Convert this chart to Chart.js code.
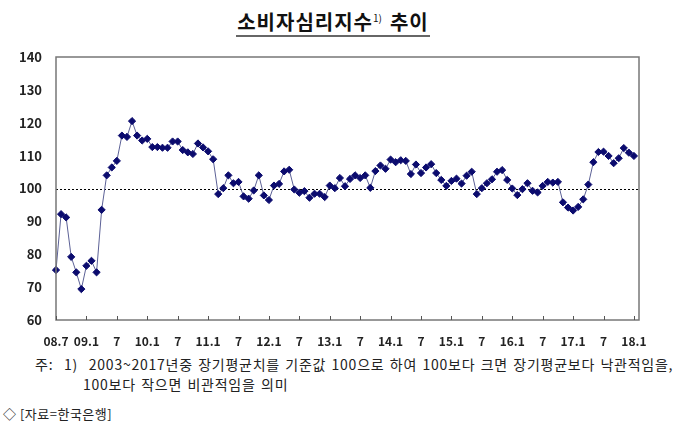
<!DOCTYPE html>
<html>
<head>
<meta charset="utf-8">
<script src="https://cdn.jsdelivr.net/npm/chart.js@4.4.1/dist/chart.umd.min.js"></script>
<style>
body{margin:0;width:680px;height:428px;background:#fff;position:relative;overflow:hidden;font-family:"Noto Sans CJK KR",sans-serif;color:#222}
#title{position:absolute;left:0;width:666px;top:4px;text-align:center;font-size:20px;font-weight:bold;color:#111;letter-spacing:1px}
#title span.t{display:inline-block;border-bottom:2px solid #666;padding:0 1px 0 1px;line-height:27px}
#title sup{font-size:10px;font-weight:normal;vertical-align:8px;margin-right:8px;letter-spacing:0}
#wrap{position:absolute;left:0;top:0;width:680px;height:350px}
.note{position:absolute;font-size:14px;color:#222;white-space:nowrap;line-height:17px;letter-spacing:0.75px;word-spacing:1.5px}
</style>
</head>
<body>
<div id="title"><span class="t">소비자심리지수<sup>1)</sup>추이</span></div>
<div id="wrap"><canvas id="csiChart"></canvas></div>
<div class="note" style="left:35px;top:356px">주:&nbsp; 1)&nbsp; 2003~2017년중 장기평균치를 기준값 100으로 하여 100보다 크면 장기평균보다 낙관적임을,</div>
<div class="note" style="left:83px;top:376px">100보다 작으면 비관적임을 의미</div>
<div class="note" style="left:3px;top:405px;font-size:13px;letter-spacing:0.5px;word-spacing:0">◇ [자료=한국은행]</div>
<script>
	//x축 눈금 라벨 (6개월 간격, 08.7 ~ 18.1)
	var tickLabels = ['08.7','09.1','7','10.1','7','11.1','7','12.1','7','13.1','7','14.1','7','15.1','7','16.1','7','17.1','7','18.1'];
	var yTicks = [60, 70, 80, 90, 100, 110, 120, 130, 140];

	//소비자심리지수 월별 값 (2008.7 ~ 2018.1)
	var csi0811 = [75.2, 92.2, 91.2, 79.2, 74.5, 69.4, 76.5, 78.0, 74.5, 93.5, 104.0, 106.4, 108.4, 116.1, 115.7, 120.5,
		116.1, 114.6, 115.1, 112.6, 112.6, 112.4, 112.4, 114.3, 114.3, 111.7, 111.0, 110.5, 113.7, 112.5, 111.3, 108.9, 98.3];
	var csi1114 = [100.1, 104.0, 101.6, 102.0, 97.6, 96.9, 99.4, 104.0, 97.9, 96.5, 100.9, 101.4, 105.2, 105.7, 99.7, 98.7,
		99.2, 97.2, 98.4, 98.4, 97.4, 100.9, 100.1, 103.2, 100.7, 102.9, 104.0, 103.2, 104.0, 100.2, 105.3, 107.0, 106.0, 108.8, 108.0];
	var csi1418 = [108.6, 108.4, 104.4, 107.3, 104.7, 106.4, 107.4, 104.7, 102.6, 100.8, 102.3, 103.0, 101.5, 103.9, 105.1, 98.3,
		100.1, 101.6, 102.8, 105.1, 105.6, 102.6, 100.0, 98.0, 99.8, 101.6, 99.3, 98.8, 100.8, 102.0, 101.8, 102.0, 95.8, 94.2,
		93.3, 94.4, 96.7, 101.2, 108.0, 111.1, 111.2, 109.9, 107.7, 109.2, 112.3, 110.9, 109.9];
	var baseLine = 100;

	var csi = csi0811.concat(csi1114, csi1418);
	var points = csi.map(function(v, i){ return {x: i, y: v}; });

	var fontFamily = '"Noto Sans CJK KR", "Noto Sans", sans-serif';

	//테두리, 기준선(100), 안쪽 눈금
	var framePlugin = {
		id: 'frame',
		beforeDatasetsDraw: function(chart){
			var a = chart.chartArea, ctx = chart.ctx, ys = chart.scales.y;
			var y100 = Math.round(ys.getPixelForValue(baseLine)) + 0.5;
			ctx.save();
			ctx.strokeStyle = '#000';
			ctx.lineWidth = 1;
			ctx.setLineDash([2, 2]);
			ctx.beginPath();
			ctx.moveTo(a.left, y100);
			ctx.lineTo(a.right, y100);
			ctx.stroke();
			ctx.restore();
		},
		afterDraw: function(chart){
			var a = chart.chartArea, ctx = chart.ctx, xs = chart.scales.x;
			ctx.save();
			ctx.strokeStyle = '#777';
			ctx.lineWidth = 1.5;
			ctx.strokeRect(a.left, a.top, a.right - a.left, a.bottom - a.top);
			ctx.lineWidth = 1;
			ctx.strokeStyle = '#555';
			xs.ticks.forEach(function(t, i){
				var px = Math.round(xs.getPixelForTick(i)) + 0.5;
				ctx.beginPath();
				ctx.moveTo(px, a.bottom);
				ctx.lineTo(px, a.bottom - 4);
				ctx.stroke();
			});
			ctx.restore();
		}
	};

	var ctx = document.getElementById('csiChart').getContext('2d');
	var csiChart = new Chart(ctx, {
		type: 'line',
		data: {
			datasets: [{
				data: points,
				borderColor: '#5c6196',
				borderWidth: 1,
				pointStyle: 'rectRot',
				pointRadius: 3.6,
				pointBackgroundColor: '#0b0b6e',
				pointBorderColor: '#0b0b6e',
				pointBorderWidth: 1,
				tension: 0,
				clip: false
			}]
		},
		options: {
			responsive: true,
			maintainAspectRatio: false,
			animation: false,
			layout: { padding: { top: 57, right: 41, left: 0, bottom: 0 } },
			plugins: { legend: { display: false }, tooltip: { enabled: false } },
			scales: {
				x: {
					type: 'linear',
					min: 0,
					max: 115,
					grid: { display: false },
					border: { display: false },
					ticks: {
						stepSize: 6,
						includeBounds: false,
						autoSkip: false,
						maxRotation: 0,
						padding: 6,
						color: '#222',
						font: { family: fontFamily, size: 12, weight: 'bold' },
						callback: function(v){ return tickLabels[v / 6]; }
					},
					afterFit: function(s){ s.height = 30; }
				},
				y: {
					min: yTicks[0],
					max: yTicks[yTicks.length - 1],
					grid: { display: false },
					border: { display: false },
					ticks: {
						stepSize: 10,
						padding: 6,
						color: '#222',
						font: { family: fontFamily, size: 13, weight: 'bold' }
					},
					afterFit: function(s){ s.width = 56; }
				}
			}
		},
		plugins: [framePlugin]
	});
</script>
</body>
</html>
